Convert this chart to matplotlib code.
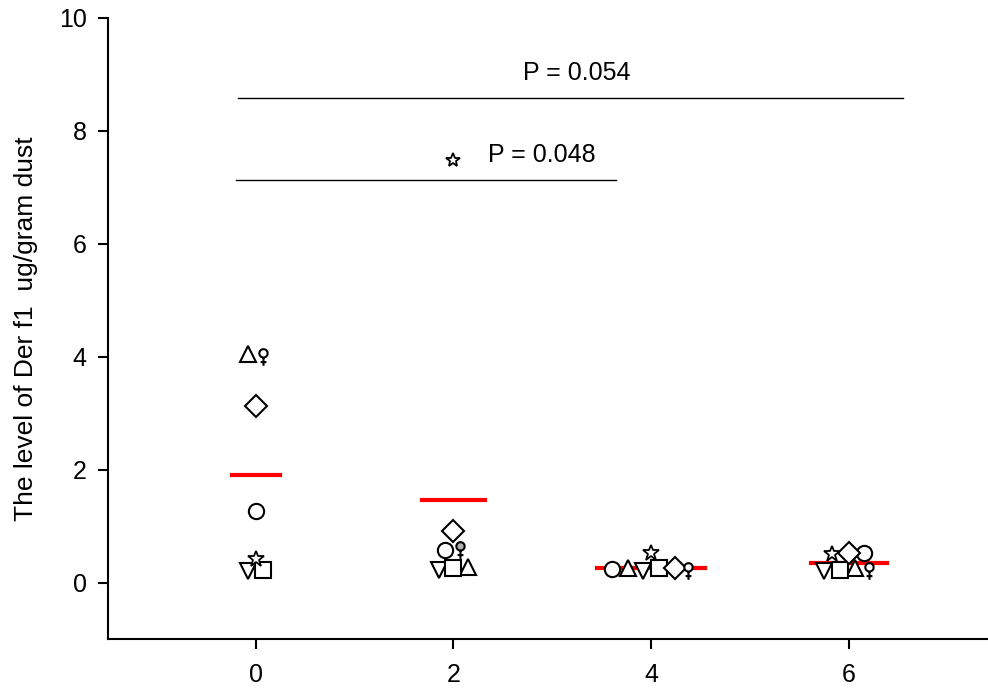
import numpy as np
import matplotlib
matplotlib.use("Agg")
import matplotlib.pyplot as plt
from matplotlib.path import Path

plt.rcParams['font.family'] = ['Liberation Sans', 'DejaVu Sans']

# weeks of follow-up
weeks = [0, 2, 4, 6]

# Der f1 level (ug/gram dust) per subject at each week
circle_vals = [1.26, 0.58, 0.24, 0.53]
triup_vals = [4.04, 0.27, 0.26, 0.26]
tridown_vals = [0.20, 0.23, 0.20, 0.20]
square_vals = [0.23, 0.25, 0.25, 0.23]
diamond_vals = [3.13, 0.91, 0.25, 0.53]
star_vals = [0.42, 7.49, 0.53, 0.50]
female_vals = [4.00, 0.57, 0.20, 0.20]

# group means
mean_vals = [1.90, 1.47, 0.26, 0.35]

# comparisons
p_labels = ["P = 0.054", "P = 0.048"]
p_line_y = [8.58, 7.13]


def female_marker():
    t = np.linspace(0, 2 * np.pi, 40)
    verts = [(0.5 * np.cos(a), 0.5 + 0.5 * np.sin(a)) for a in t]
    codes = [Path.MOVETO] + [Path.LINETO] * (len(verts) - 1)
    verts += [(0, 0), (0, -1), (-0.35, -0.55), (0.35, -0.55)]
    codes += [Path.MOVETO, Path.LINETO, Path.MOVETO, Path.LINETO]
    return Path(verts, codes)


# horizontal jitter of each symbol within a group
offsets = {
    'o': [0.0, -0.085, -0.40, 0.15],
    '^': [-0.08, 0.15, -0.235, 0.065],
    'v': [-0.08, -0.15, -0.08, -0.25],
    's': [0.075, 0.0, 0.08, -0.09],
    'D': [0.0, 0.0, 0.24, 0.0],
    '*': [0.0, 0.0, 0.0, -0.17],
    'f': [0.075, 0.07, 0.37, 0.21],
}
mean_half = [0.245, 0.32, 0.55, 0.385]

fig = plt.figure(figsize=(9.88, 6.91), dpi=100)
ax = fig.add_axes([0.109, 0.0753, 0.891, 0.8987])

for i, w in enumerate(weeks):
    ax.plot([w - mean_half[i], w + mean_half[i]], [mean_vals[i]] * 2,
            color='red', lw=3, zorder=1)

series = [('o', circle_vals), ('^', triup_vals), ('v', tridown_vals),
          ('s', square_vals), ('D', diamond_vals)]
for m, vals in series:
    xs = np.array(weeks) + np.array(offsets[m])
    ax.plot(xs, vals, ls='none', marker=m, ms=11, mfc='white',
            mec='black', mew=1.5, zorder=3)

# star: week 2 value sits up high and is drawn smaller
xs = np.array(weeks) + np.array(offsets['*'])
for j in range(len(weeks)):
    ax.plot(xs[j], star_vals[j], ls='none', marker='*',
            ms=10 if j == 1 else 12, mfc='white', mec='black', mew=1.3,
            zorder=3)

xs = np.array(weeks) + np.array(offsets['f'])
for j in range(len(weeks)):
    ax.plot(xs[j], female_vals[j], ls='none', marker=female_marker(), ms=12,
            mfc='#b0b0b0' if j == 1 else 'white', mec='black', mew=1.5,
            zorder=3)

# significance lines
ax.plot([-0.18, 6.55], [p_line_y[0]] * 2, color='black', lw=1)
ax.plot([-0.2, 3.64], [p_line_y[1]] * 2, color='black', lw=1)
ax.text(3.25, 9.03, p_labels[0], fontsize=18, ha='center', va='center')
ax.text(2.35, 7.58, p_labels[1], fontsize=18, ha='left', va='center')

ax.set_xlim(-1.5, 7.41)
ax.set_ylim(-1, 10)
ax.set_xticks(weeks)
ax.set_yticks([0, 2, 4, 6, 8, 10])
ax.spines['top'].set_visible(False)
ax.spines['right'].set_visible(False)
ax.spines['left'].set_linewidth(1.5)
ax.spines['bottom'].set_linewidth(1.5)
ax.tick_params(direction='out', length=7, width=1.5, labelsize=18, pad=8)
ax.tick_params(axis='x', pad=10)
ax.set_ylabel("The level of Der f1  ug/gram dust", fontsize=19, labelpad=15)

fig.savefig("out.png", dpi=100)
